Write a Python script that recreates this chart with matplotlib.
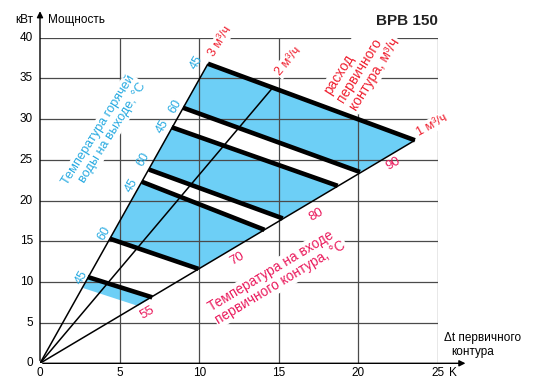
import matplotlib
matplotlib.use("Agg")
import matplotlib.pyplot as plt

plt.rcParams['font.family'] = ['Liberation Sans', 'DejaVu Sans']

# расход первичного контура: линии из начала координат
flow_labels = ['3 м³/ч', '2 м³/ч', '1 м³/ч']
flow_end_x = [10.55, 14.55, 23.55]
flow_end_y = [36.8, 33.7, 27.4]
flow_label_x = [11.3, 15.6, 24.6]
flow_label_y = [39.5, 37.1, 29.2]

# толстые линии: от точки на 3 м3/ч до точки на 1 м3/ч
t_out = ['45', '60', '45', '60', '45', '60', '45']
t_in = [90, 90, 80, 80, 70, 70, 55]
x3 = [10.55, 8.98, 8.27, 6.85, 6.4, 4.4, 3.0]
y3 = [36.8, 31.4, 29.0, 23.8, 22.3, 15.3, 10.6]
x1 = [23.55, 20.1, 18.7, 15.25, 14.1, 9.95, 7.05]
y1 = [27.4, 23.5, 21.8, 17.8, 16.4, 11.6, 8.1]
tout_label_x = [9.86, 8.47, 7.72, 6.47, 5.78, 4.02, 2.64]
tout_label_y = [36.9, 31.6, 29.1, 25.1, 21.9, 16.0, 10.6]

# нижняя граница полосы 55
low55_x = [2.7, 6.15]
low55_y = [9.25, 7.05]

tin_labels = ['90', '80', '70', '55']
tin_label_x = [22.16, 17.33, 12.37, 6.72]
tin_label_y = [24.5, 18.3, 12.8, 6.2]

x_ticks = [0, 5, 10, 15, 20, 25]
y_ticks = [0, 5, 10, 15, 20, 25, 30, 35, 40]

BLUE_FILL = '#6dcff6'
BLUE_TXT = '#27aae1'
RED = '#ef2030'
PINK = '#ea1a5c'

fig = plt.figure(figsize=(5.34, 3.92), dpi=100)
ax = fig.add_axes([40 / 534, (392 - 363.3) / 392, 398 / 534, 325.6 / 392])
ax.set_xlim(0, 25)
ax.set_ylim(0, 40)
ax.axis('off')

# полосы
bands = [(0, 1), (2, 3), (4, 5)]
for a, b in bands:
    ax.fill([x3[a], x1[a], x1[b], x3[b]], [y3[a], y1[a], y1[b], y3[b]],
            color=BLUE_FILL, lw=0, zorder=1)
ax.fill([x3[6], x1[6], low55_x[1], low55_x[0]], [y3[6], y1[6], low55_y[1], low55_y[0]],
        color=BLUE_FILL, lw=0, zorder=1)

# сетка
for y in y_ticks[1:]:
    ax.plot([0, 25], [y, y], color='#4a4a4a', lw=0.9, zorder=2)
for x in x_ticks[1:]:
    ax.plot([x, x], [0, 40], color='#4a4a4a', lw=0.9, zorder=2)

# оси со стрелками
ax.annotate('', xy=(0, 43.6), xytext=(0, 0),
            arrowprops=dict(arrowstyle='-|>', color='black', lw=1.0, mutation_scale=9),
            annotation_clip=False, zorder=3)
ax.annotate('', xy=(26.9, 0), xytext=(0, 0),
            arrowprops=dict(arrowstyle='-|>', color='black', lw=1.0, mutation_scale=9),
            annotation_clip=False, zorder=3)

# линии расхода
for ex, ey in zip(flow_end_x, flow_end_y):
    ax.plot([0, ex], [0, ey], color='black', lw=1.1, zorder=3, solid_capstyle='butt')

# толстые линии
for i in range(len(x3)):
    ax.plot([x3[i], x1[i]], [y3[i], y1[i]], color='black', lw=3.3, zorder=4,
            solid_capstyle='butt')

box = dict(facecolor='white', edgecolor='none', pad=1.0)

for lab, lx, ly, rot in zip(flow_labels, flow_label_x, flow_label_y, [58, 50, 29]):
    ax.text(lx, ly, lab, color=RED, fontsize=9, rotation=rot, ha='center', va='center',
            rotation_mode='anchor', bbox=box, zorder=5)

for lab, lx, ly in zip(t_out, tout_label_x, tout_label_y):
    ax.text(lx, ly, lab, color=BLUE_TXT, fontsize=9, rotation=60, ha='center', va='center',
            rotation_mode='anchor', zorder=5)

for lab, lx, ly in zip(tin_labels, tin_label_x, tin_label_y):
    ax.text(lx, ly, lab, color=PINK, fontsize=9.5, rotation=30, ha='center', va='center',
            rotation_mode='anchor', zorder=5)

ax.text(4.0, 28.2, 'Температура горячей\nводы на выходе, °C', color=BLUE_TXT, fontsize=9.2,
        rotation=58, ha='center', va='center', rotation_mode='anchor', multialignment='right',
        linespacing=1.15, bbox=box, zorder=5)
ax.text(20.2, 36.5, 'расход\nпервичного\nконтура, м³/ч', color=RED, fontsize=9.8,
        rotation=58, ha='center', va='center', rotation_mode='anchor', multialignment='left',
        linespacing=1.1, bbox=box, zorder=5)
ax.text(14.88, 10.7, 'Температура на входе\nпервичного контура, °C', color=PINK, fontsize=9.8,
        rotation=31, ha='center', va='center', rotation_mode='anchor', multialignment='left',
        linespacing=1.1, bbox=box, zorder=5)

# подписи осей
for x in x_ticks:
    ax.text(x, -1.2, str(x), fontsize=8.5, ha='center', va='center', clip_on=False)
for y in y_ticks:
    ax.text(-0.44, y, str(y), fontsize=8.5, ha='right', va='center', clip_on=False)

ax.text(-1.0, 42.2, 'кВт', fontsize=8.5, ha='center', va='center', clip_on=False)
ax.text(0.5, 42.2, 'Мощность', fontsize=8.5, ha='left', va='center', clip_on=False)
ax.text(25.0, 42.1, 'BPB 150', fontsize=11, fontweight='bold', ha='right', va='center',
        color='#222222', clip_on=False)
ax.text(25.4, 3.1, 'Δt первичного', fontsize=8.5, ha='left', va='center', clip_on=False)
ax.text(25.85, 1.4, 'контура', fontsize=8.5, ha='left', va='center', clip_on=False)
ax.text(25.96, -1.15, 'K', fontsize=8.5, ha='center', va='center', clip_on=False)

fig.savefig('out.png', dpi=100)
